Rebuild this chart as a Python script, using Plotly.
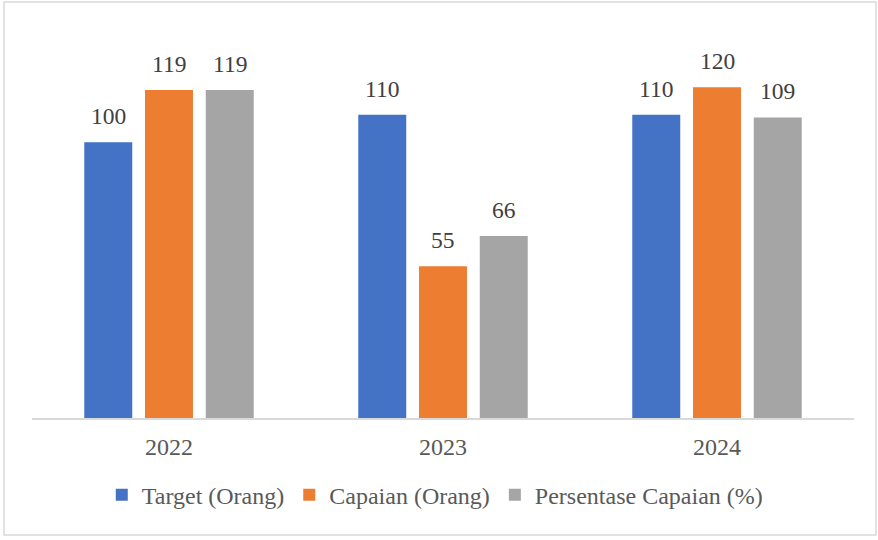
import plotly.graph_objects as go

years = ["2022", "2023", "2024"]
target = [100, 110, 110]
capaian = [119, 55, 120]
persentase = [119, 66, 109]

series = [
    ("Target (Orang)", target, "#4472C4"),
    ("Capaian (Orang)", capaian, "#ED7D31"),
    ("Persentase Capaian (%)", persentase, "#A5A5A5"),
]

FONT = "Liberation Serif, Times New Roman, serif"
W, H = 878, 540
L, R, T, B = 32, 24, 32, 122
BARGAP, GROUPGAP = 0.335, 0.21

pw = W - L - R
ph = H - T - B
slot = pw / len(years) * (1 - BARGAP) / len(series)

fig = go.Figure()
annotations = []
for i, (name, vals, color) in enumerate(series):
    fig.add_trace(go.Bar(
        x=years, y=vals, name=name, marker_color=color, marker_line_width=0,
    ))
    for j, v in enumerate(vals):
        # x given as category index (category axis serial position)
        annotations.append(dict(
            x=j, y=v, xref="x", yref="y", text=str(v), showarrow=False,
            xanchor="center", yanchor="bottom", xshift=(i - 1) * slot, yshift=11,
            font=dict(family=FONT, size=23.5, color="#404040"),
        ))

fig.update_layout(
    width=W, height=H,
    margin=dict(l=L, r=R, t=T, b=B),
    paper_bgcolor="white", plot_bgcolor="white",
    bargap=BARGAP, bargroupgap=GROUPGAP,
    font=dict(family=FONT, color="#595959"),
    xaxis=dict(type="category", range=[-0.5, len(years) - 0.5],
               showline=True, linecolor="#D9D9D9", linewidth=1.5,
               tickfont=dict(family=FONT, size=24, color="#595959"), ticks="",
               ticklabelstandoff=6),
    yaxis=dict(range=[0, 140], visible=False, showgrid=False),
    legend=dict(orientation="h", x=0.49, xanchor="center", y=-0.2, yanchor="middle",
                font=dict(family=FONT, size=24, color="#595959"), itemwidth=30,
                traceorder="normal"),
    annotations=annotations,
    shapes=[dict(type="rect", xref="paper", yref="paper",
                 x0=-(L - 4) / pw, x1=(pw + R - 2) / pw,
                 y0=-(B - 5) / ph, y1=(ph + T - 2) / ph,
                 line=dict(color="#D9D9D9", width=1.5), fillcolor="rgba(0,0,0,0)")],
)
fig.write_html("out.html", config={"displayModeBar": False},
               post_script="document.body.style.margin='0';")
